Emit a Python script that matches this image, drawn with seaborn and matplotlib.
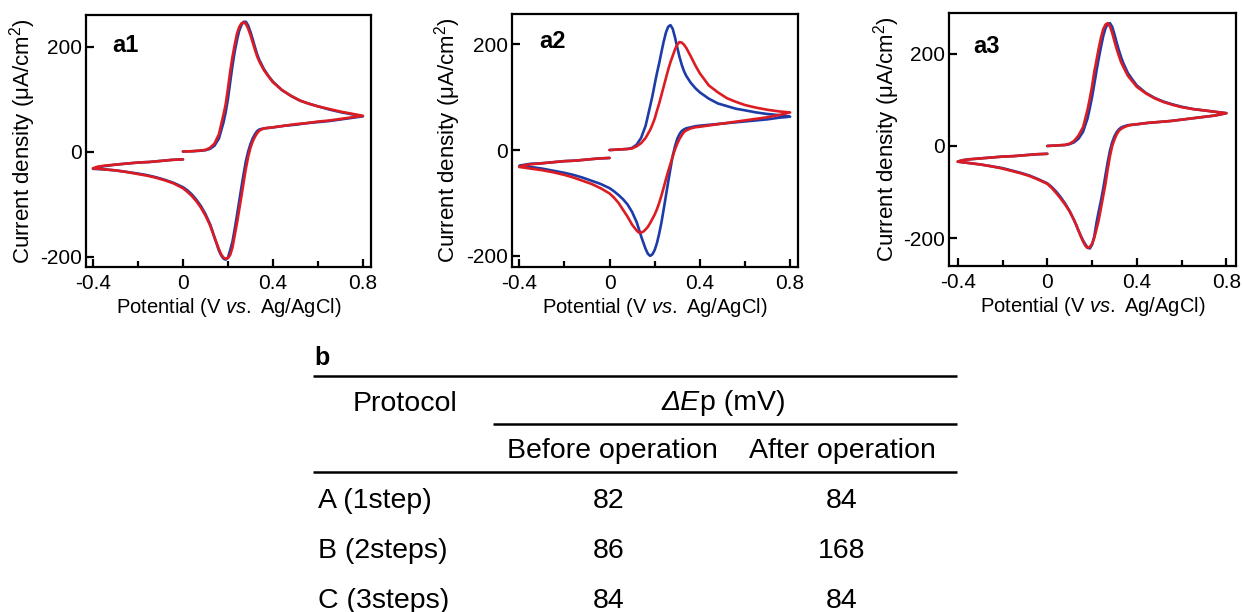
import matplotlib
matplotlib.use("Agg")
import pandas as pd
import seaborn as sns
import matplotlib.pyplot as plt

# potential grid of one CV cycle (V vs. Ag/AgCl): 0 -> 0.8 -> -0.4 -> 0
v_fwd = [0.0, 0.04, 0.08, 0.10, 0.12, 0.14, 0.16, 0.18,
         0.19, 0.20, 0.21, 0.22, 0.23, 0.24, 0.25, 0.26, 0.27, 0.28, 0.29, 0.30, 0.31, 0.32, 0.33, 0.34,
         0.36, 0.38, 0.40, 0.44, 0.48, 0.52, 0.56, 0.60, 0.65, 0.70, 0.75, 0.80]
v_rev = [0.75, 0.70, 0.65, 0.60, 0.55, 0.50, 0.45, 0.40, 0.38, 0.36, 0.34,
         0.33, 0.32, 0.31, 0.30, 0.29, 0.28, 0.27, 0.26, 0.25, 0.24, 0.23, 0.22, 0.21, 0.20, 0.19, 0.18,
         0.17, 0.16, 0.15, 0.14, 0.13, 0.12,
         0.10, 0.08, 0.06, 0.04, 0.02, 0.0, -0.04, -0.08, -0.12, -0.16, -0.20, -0.25, -0.30, -0.35, -0.40]
v_ret = [-0.38, -0.35, -0.30, -0.25, -0.20, -0.15, -0.10, -0.05, 0.0]
potential = v_fwd + v_rev + v_ret

# current density (uA/cm2), same order as the potential grid
a1_before = ([0, 0.5, 1.5, 2.5, 5, 11, 25, 55,
              75, 100, 132, 163, 190, 212, 230, 241, 247, 247, 240, 228, 214, 199, 185, 174,
              157, 144, 133, 117, 106, 97, 91, 86, 80, 75, 71, 67]
             + [64, 61, 58, 56, 54, 51, 49, 46, 45, 44, 42,
                39, 33, 25, 14, 0, -18, -42, -68, -95, -122, -148, -172, -188, -202, -206, -204,
                -198, -189, -176, -163, -150, -138,
                -119, -104, -92, -82, -74, -68, -60, -54, -49, -45, -42, -39, -36, -34, -33]
             + [-30, -28, -25, -23, -21, -20, -18, -16, -15])
a1_after = ([0, 0.5, 2, 3, 7, 15, 33, 70,
             90, 120, 152, 180, 203, 224, 237, 244, 246, 243, 234, 222, 208, 194, 181, 171,
             155, 143, 132, 117, 106, 97, 91, 86, 81, 76, 72, 68]
            + [65, 62, 59, 57, 54, 52, 49, 46, 45, 44, 40,
               35, 28, 19, 7, -10, -32, -58, -85, -111, -137, -160, -183, -197, -203, -204, -202,
               -196, -186, -175, -164, -152, -140,
               -122, -107, -95, -85, -77, -70, -61, -55, -50, -46, -43, -39, -36, -34, -32]
            + [-29, -27, -25, -23, -21, -20, -18, -16, -15])

a2_before = ([0, 1, 2, 4, 10, 23, 46, 83,
              102, 124, 145, 164, 185, 205, 222, 233, 236, 229, 213, 194, 176, 161, 149, 140,
              127, 117, 109, 97, 88, 83, 78, 75, 71, 68, 66, 63]
             + [61, 58, 56, 54, 52, 50, 48, 46, 45, 43, 41,
                39, 36, 30, 21, 7, -11, -35, -60, -86, -112, -137, -158, -176, -189, -197, -200,
                -196, -187, -175, -163, -149, -136,
                -117, -103, -93, -85, -78, -72, -64, -58, -52, -47, -43, -39, -35, -32, -30]
             + [-28, -26, -25, -23, -21, -20, -18, -16, -15])
a2_after = ([0, 1, 2, 3, 7, 13, 23, 38,
             48, 59, 74, 88, 104, 120, 136, 152, 166, 178, 190, 199, 204, 203, 199, 193,
             177, 160, 145, 122, 109, 98, 91, 85, 80, 76, 73, 71]
            + [66, 62, 59, 56, 53, 50, 47, 44, 43, 41, 37,
               34, 28, 21, 12, 1, -12, -26, -40, -55, -71, -86, -100, -112, -122, -130, -138,
               -145, -150, -154, -156, -156, -152,
               -141, -126, -113, -100, -90, -82, -72, -64, -58, -52, -47, -42, -38, -35, -32]
            + [-29, -27, -25, -23, -21, -20, -18, -16, -15])

a3_before = ([0, 1, 2, 4, 8, 16, 31, 60,
              82, 106, 134, 163, 190, 215, 238, 255, 264, 266, 258, 242, 224, 207, 192, 179,
              158, 144, 131, 115, 104, 96, 90, 85, 80, 77, 74, 71]
             + [66, 63, 60, 57, 54, 52, 50, 47, 46, 45, 42,
                40, 36, 30, 21, 8, -10, -35, -63, -92, -118, -141, -166, -196, -214, -222, -220,
                -213, -205, -195, -184, -172, -161,
                -141, -125, -111, -99, -89, -81, -72, -64, -58, -53, -48, -44, -40, -37, -34]
             + [-31, -29, -27, -25, -23, -22, -20, -18, -17])
a3_after = ([0, 1, 2.5, 5, 11, 23, 41, 79,
             103, 129, 161, 186, 212, 235, 253, 263, 266, 259, 245, 227, 210, 195, 181, 171,
             152, 140, 128, 114, 103, 95, 89, 84, 80, 77, 74, 71]
            + [66, 63, 60, 57, 54, 52, 50, 47, 46, 44, 40,
               37, 33, 25, 14, 0, -22, -50, -82, -108, -134, -160, -180, -199, -212, -219, -221,
               -216, -207, -196, -184, -172, -161,
               -142, -127, -114, -102, -91, -82, -73, -65, -59, -54, -49, -44, -40, -37, -34]
            + [-31, -29, -27, -25, -23, -22, -20, -18, -17])

panels = ["a1", "a2", "a3"]
x_ticks = [-0.4, 0, 0.4, 0.8]
x_tick_labels = ["-0.4", "0", "0.4", "0.8"]
x_minor = [-0.2, 0.2, 0.6]
y_ticks = [-200, 0, 200]
y_tick_labels = ["-200", "0", "200"]

protocols = ["A (1step)", "B (2steps)", "C (3steps)"]
dep_before = [82, 86, 84]
dep_after = [84, 168, 84]

BLUE = "#1d3ca8"
RED = "#dc1c22"

sns.set_style("ticks")
plt.rcParams["font.family"] = ["Liberation Sans", "DejaVu Sans"]
plt.rcParams["mathtext.fontset"] = "custom"
plt.rcParams["mathtext.rm"] = "Liberation Sans"
plt.rcParams["mathtext.it"] = "Liberation Sans:italic"
plt.rcParams["mathtext.bf"] = "Liberation Sans:bold"
for k in ["text.color", "axes.labelcolor", "xtick.color", "ytick.color", "axes.edgecolor"]:
    plt.rcParams[k] = "black"


def draw_cv(ax, before, after, name, xlim, ylim, ylab_x, name_pos):
    n = len(potential)
    df = pd.DataFrame({"V": potential * 2, "I": before + after,
                       "state": ["before"] * n + ["after"] * n})
    sns.lineplot(data=df, x="V", y="I", hue="state", hue_order=["before", "after"],
                 palette={"before": BLUE, "after": RED}, sort=False, estimator=None,
                 lw=1.9, solid_joinstyle="round", legend=False, ax=ax)
    ax.set_xlim(*xlim)
    ax.set_ylim(*ylim)
    ax.set_xticks(x_ticks, labels=x_tick_labels)
    ax.set_xticks(x_minor, minor=True)
    ax.set_yticks(y_ticks, labels=y_tick_labels)
    ax.tick_params(which="both", direction="in", top=False, right=False, width=1.6,
                   labelsize=15, colors="black")
    ax.tick_params(which="major", length=6)
    ax.tick_params(which="minor", length=4)
    ax.tick_params(axis="x", pad=5)
    ax.tick_params(axis="y", pad=3)
    for sp in ax.spines.values():
        sp.set_linewidth(1.6)
        sp.set_color("black")
    ax.set_xlabel(r"Potential (V $\mathit{vs.}$ Ag/AgCl)", fontsize=14.5, labelpad=2)
    ax.set_ylabel(r"Current density (μA/cm$^{2}$)", fontsize=16)
    ax.yaxis.set_label_coords(ylab_x, 0.5)
    ax.text(name_pos[0], name_pos[1], name, transform=ax.transAxes, fontsize=17,
            fontweight="bold", va="baseline")


fig = plt.figure(figsize=(12.43, 6.12), dpi=100)
W, H = 1243, 612

# axes boxes in pixels: left, right, top, bottom
boxes = [(86, 371, 15, 267), (512, 798, 14, 267), (949, 1236, 13, 266)]
limits = [((-0.431, 0.836), (-220, 260)),
          ((-0.432, 0.835), (-221, 257)),
          ((-0.439, 0.843), (-260, 288))]
ylab_xs = [-0.168, -0.172, -0.165]
name_pos = [(0.092, 0.854), (0.094, 0.864), (0.085, 0.842)]
curves = [(a1_before, a1_after), (a2_before, a2_after), (a3_before, a3_after)]

for i, name in enumerate(panels):
    l, r, t, b = boxes[i]
    ax = fig.add_axes([l / W, 1 - b / H, (r - l) / W, (b - t) / H])
    draw_cv(ax, curves[i][0], curves[i][1], name, limits[i][0], limits[i][1],
            ylab_xs[i], name_pos[i])

# table b, laid out in pixel coordinates
tab = fig.add_axes([0, 0, 1, 1])
tab.set_xlim(0, W)
tab.set_ylim(H, 0)
tab.axis("off")
fs = 20.5
tab.text(314, 365, "b", fontsize=18, fontweight="bold", va="baseline")
tab.hlines([376, 472], 313, 957, color="black", lw=1.8)
tab.hlines(424, 493, 957, color="black", lw=1.8)
tab.text(405, 411, "Protocol", ha="center", va="baseline", fontsize=fs)
tab.text(700, 410, "ΔE", ha="right", va="baseline", fontsize=fs, fontstyle="italic")
tab.text(700, 410, "p (mV)", ha="left", va="baseline", fontsize=fs)
tab.text(612, 458, "Before operation", ha="center", va="baseline", fontsize=fs)
tab.text(842, 458, "After operation", ha="center", va="baseline", fontsize=fs)
for i, (p, bv, av) in enumerate(zip(protocols, dep_before, dep_after)):
    y = 508 + 50 * i
    tab.text(318, y, p, ha="left", va="baseline", fontsize=fs)
    tab.text(609, y, str(bv), ha="center", va="baseline", fontsize=fs)
    tab.text(842, y, str(av), ha="center", va="baseline", fontsize=fs)

fig.savefig("out.png", dpi=100, facecolor="white")
